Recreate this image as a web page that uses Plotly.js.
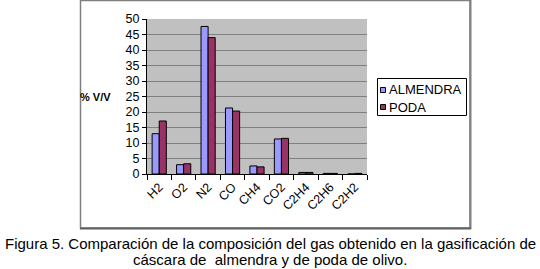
<!DOCTYPE html>
<html><head><meta charset="utf-8">
<script src="https://cdn.plot.ly/plotly-3.0.1.min.js"></script>
<style>html,body{margin:0;padding:0;background:#fff;}#chart{width:540px;height:269px;}</style>
</head><body><div id="chart"></div>
<script>
const categories = ["H2","O2","N2","CO","CH4","CO2","C2H4","C2H6","C2H2"];
const almendra = [13.0, 3.0, 47.6, 21.3, 2.6, 11.3, 0.5, 0.2, 0.0];
const poda = [17.1, 3.3, 44.0, 20.3, 2.3, 11.5, 0.5, 0.2, 0.2];
const seriesNames = ["ALMENDRA", "PODA"];
const seriesColors = ["#9999FF", "#993366"];

const W = 540, H = 269;
const L = 147, R = 367, T = 19, B = 174;
const px = x => (x - L) / (R - L);
const py = y => (B - y) / (B - T);
const font = "Liberation Sans, Arial, sans-serif";

const data = [almendra, poda].map((vals, i) => ({
  type: "bar", name: seriesNames[i], x: categories, y: vals,
  marker: {color: seriesColors[i], line: {color: "#000", width: 1}}
}));

const shapes = [
  {type: "rect", xref: "paper", yref: "paper", x0: px(80.5), x1: px(470), y0: py(228), y1: py(0.5),
   line: {color: "#808080", width: 1.5}, layer: "below"},
  {type: "line", xref: "paper", yref: "paper", x0: px(470.5), x1: px(470.5), y0: py(229), y1: py(0),
   line: {color: "#808080", width: 2}},
  {type: "line", xref: "paper", yref: "paper", x0: px(80), x1: px(471), y0: py(228.5), y1: py(228.5),
   line: {color: "#606060", width: 2}},
  {type: "rect", xref: "paper", yref: "paper", x0: px(377.5), x1: px(466.5), y0: py(115.5), y1: py(78.5),
   line: {color: "#000", width: 1}, fillcolor: "#fff"}
];
const annotations = [
  {text: "<b>% V/V</b>", xref: "paper", yref: "paper", x: px(113), y: py(97),
   xanchor: "right", yanchor: "middle", showarrow: false, font: {family: font, size: 11}},
  {text: "Figura 5. Comparación de la composición del gas obtenido en la gasificación de",
   xref: "paper", yref: "paper", x: px(270), y: py(243), xanchor: "center", yanchor: "middle",
   showarrow: false, font: {family: font, size: 15}},
  {text: "cáscara de  almendra y de poda de olivo.",
   xref: "paper", yref: "paper", x: px(270), y: py(259), xanchor: "center", yanchor: "middle",
   showarrow: false, font: {family: font, size: 15}}
];
const legendRows = [90, 107];
seriesNames.forEach((name, i) => {
  const cy = legendRows[i];
  shapes.push({type: "rect", xref: "paper", yref: "paper", x0: px(380.5), x1: px(385.5),
    y0: py(cy + 2.5), y1: py(cy - 2.5), fillcolor: seriesColors[i], line: {color: "#000", width: 1}});
  annotations.push({text: name, xref: "paper", yref: "paper", x: px(386.5), y: py(cy),
    xanchor: "left", yanchor: "middle", showarrow: false, font: {family: font, size: 13}});
});

const layout = {
  width: W, height: H,
  margin: {l: L, r: W - R, t: T, b: H - B, pad: 0},
  paper_bgcolor: "#fff", plot_bgcolor: "#C0C0C0",
  font: {family: font, size: 12, color: "#000"},
  barmode: "group", bargap: 0.42, bargroupgap: 0,
  showlegend: false,
  xaxis: {type: "category", tickangle: "auto", autotickangles: [-45], showline: true, linecolor: "#000", linewidth: 1,
          ticks: "outside", tickson: "boundaries", ticklen: 5, tickcolor: "#000",
          showgrid: false, tickfont: {family: font, size: 12.5}, fixedrange: true},
  yaxis: {range: [0, 50], dtick: 5, showline: true, linecolor: "#000", linewidth: 1,
          ticks: "outside", ticklen: 4, tickcolor: "#000",
          showgrid: true, gridcolor: "#808080", gridwidth: 1, zeroline: false,
          tickfont: {family: font, size: 12.5}, fixedrange: true},
  shapes: shapes,
  annotations: annotations
};

Plotly.newPlot("chart", data, layout, {displayModeBar: false, staticPlot: true});
</script></body></html>
